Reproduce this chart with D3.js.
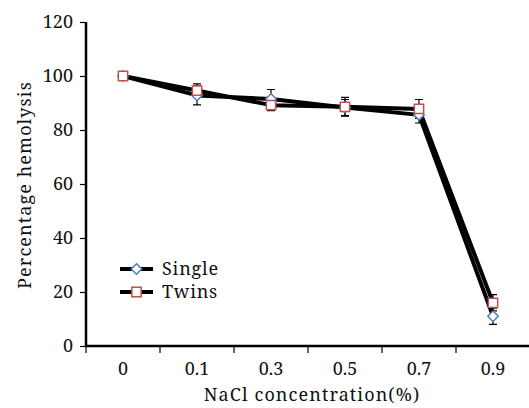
<!DOCTYPE html>
<html>
<head>
<meta charset="utf-8">
<script src="https://cdn.jsdelivr.net/npm/d3@7"></script>
<style>
  html, body { margin: 0; padding: 0; background: #fff; }
  svg { display: block; }
</style>
</head>
<body>
<svg id="chart" width="529" height="408"></svg>
<script>
/* Hemolysis vs NaCl concentration, single vs twins. */

const categories = ["0", "0.1", "0.3", "0.5", "0.7", "0.9"];
const singleValues = [100, 92.8, 91.5, 88.3, 85.6, 11];
const singleErrors = [0, 3.5, 3.5, 3, 3, 3];
const twinsValues = [100, 94.6, 89.2, 88.6, 87.8, 16];
const twinsErrors = [0, 2.5, 2, 3.5, 3.5, 3];
const yTicks = [0, 20, 40, 60, 80, 100, 120];

const series = [
  { name: "Single", values: singleValues, errors: singleErrors, symbol: "diamond", color: "#4f81bd" },
  { name: "Twins",  values: twinsValues,  errors: twinsErrors,  symbol: "square",  color: "#c0504d" }
];

const FONT = "Noto Serif";
const FONT_SIZE = 18;
const svg = d3.select("#chart");
const margin = { left: 86, right: 0, top: 22, bottom: 62 };
const width = 529, height = 408;

const x = d3.scaleBand().domain(categories).range([margin.left, 530]);
const y = d3.scaleLinear().domain([0, 120]).range([height - margin.bottom, margin.top]);

/* ---------- AXES ---------- */

const yAxis = svg.append("g")
  .attr("transform", "translate(" + margin.left + ",0)")
  .call(d3.axisLeft(y).tickValues(yTicks).tickSize(6).tickPadding(7));
yAxis.attr("font-family", FONT).attr("font-size", FONT_SIZE);
yAxis.select(".domain").attr("stroke-width", 2.5).attr("d", "M0," + y(0) + "V" + y(120));
yAxis.selectAll(".tick line").attr("stroke-width", 1.2);
yAxis.selectAll("text").attr("fill", "#111");

const xAxis = svg.append("g")
  .attr("transform", "translate(0," + y(0) + ")")
  .call(d3.axisBottom(x).tickSize(0).tickPadding(16));
xAxis.attr("font-family", FONT).attr("font-size", FONT_SIZE);
xAxis.select(".domain").attr("stroke-width", 2.5).attr("d", "M" + margin.left + ",0H529");
xAxis.selectAll("text").attr("fill", "#111");

/* band boundary ticks */
const bounds = categories.map(function (c) { return x(c); });
xAxis.selectAll("line.bound")
  .data(bounds)
  .enter()
  .append("line")
  .attr("class", "bound")
  .attr("x1", function (d) { return d; })
  .attr("x2", function (d) { return d; })
  .attr("y1", 0)
  .attr("y2", 7)
  .attr("stroke", "#000")
  .attr("stroke-width", 1.2);

svg.append("text")
  .attr("x", 312)
  .attr("y", 401)
  .attr("text-anchor", "middle")
  .attr("font-family", FONT)
  .attr("font-size", FONT_SIZE)
  .attr("letter-spacing", 1.1)
  .attr("fill", "#111")
  .text("NaCl concentration(%)");

svg.append("text")
  .attr("transform", "translate(31,185) rotate(-90)")
  .attr("text-anchor", "middle")
  .attr("font-family", FONT)
  .attr("font-size", FONT_SIZE)
  .attr("letter-spacing", 1.1)
  .attr("fill", "#111")
  .text("Percentage hemolysis");

/* ---------- SERIES ---------- */

const cx = function (i) { return x(categories[i]) + x.bandwidth() / 2; };

const line = d3.line()
  .x(function (d, i) { return cx(i); })
  .y(function (d) { return y(d); });

series.forEach(function (s) {
  svg.append("path")
    .datum(s.values)
    .attr("fill", "none")
    .attr("stroke", "#000")
    .attr("stroke-width", 4)
    .attr("stroke-linejoin", "round")
    .attr("d", line);
});

series.forEach(function (s) {
  const g = svg.append("g");
  s.values.forEach(function (v, i) {
    const e = s.errors[i];
    if (!e) return;
    const px = cx(i);
    g.append("path")
      .attr("fill", "none")
      .attr("stroke", "#000")
      .attr("stroke-width", 1.2)
      .attr("d", "M" + px + "," + y(v + e) + "V" + y(v - e) +
        "M" + (px - 4) + "," + y(v + e) + "H" + (px + 4) +
        "M" + (px - 4) + "," + y(v - e) + "H" + (px + 4));
  });
});

const symbolGen = {
  diamond: d3.symbol().type(d3.symbolDiamond2).size(70),
  square: d3.symbol().type(d3.symbolSquare2).size(110)
};

series.forEach(function (s) {
  svg.append("g").selectAll("path")
    .data(s.values)
    .enter()
    .append("path")
    .attr("transform", function (d, i) { return "translate(" + cx(i) + "," + y(d) + ")"; })
    .attr("d", symbolGen[s.symbol])
    .attr("fill", "#fff")
    .attr("stroke", s.color)
    .attr("stroke-width", 1.5);
});

/* ---------- LEGEND ---------- */

const legend = svg.append("g").attr("transform", "translate(120,269)");
series.forEach(function (s, i) {
  const row = legend.append("g").attr("transform", "translate(0," + (i * 23) + ")");
  row.append("line")
    .attr("x1", 0).attr("x2", 33)
    .attr("y1", 0).attr("y2", 0)
    .attr("stroke", "#000")
    .attr("stroke-width", 4);
  row.append("path")
    .attr("transform", "translate(16.5,0)")
    .attr("d", symbolGen[s.symbol])
    .attr("fill", "#fff")
    .attr("stroke", s.color)
    .attr("stroke-width", 1.5);
  row.append("text")
    .attr("x", 42)
    .attr("y", 6)
    .attr("font-family", FONT)
    .attr("font-size", FONT_SIZE)
    .attr("letter-spacing", 0.8)
    .attr("fill", "#111")
    .text(s.name);
});
</script>
</body>
</html>
